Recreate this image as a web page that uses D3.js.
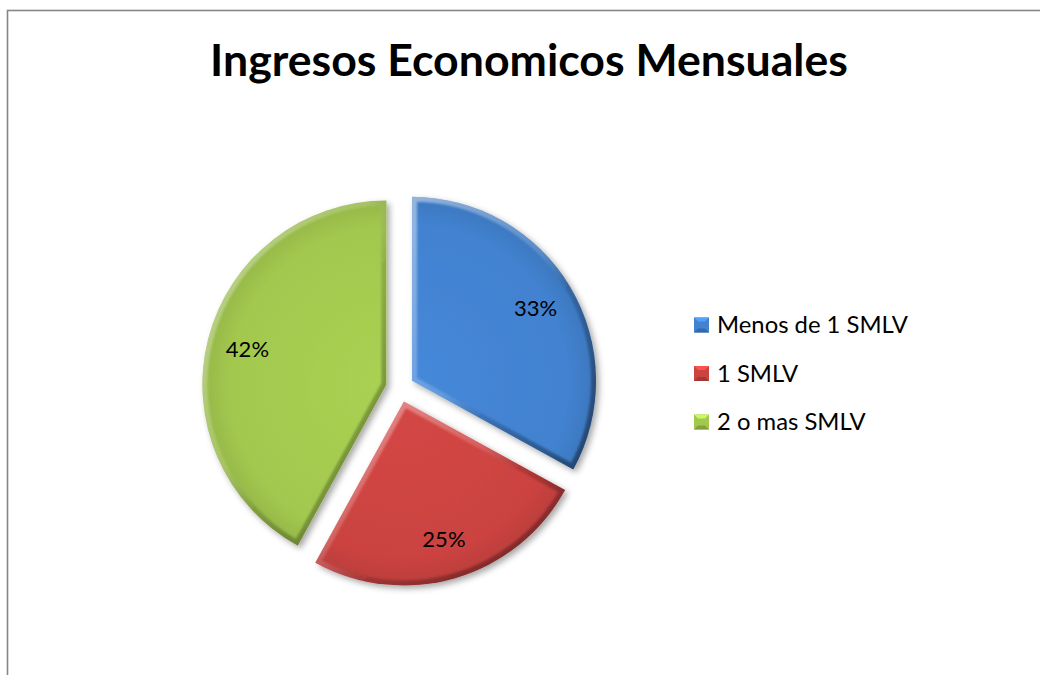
<!DOCTYPE html>
<html>
<head>
<meta charset="utf-8">
<script src="https://cdn.jsdelivr.net/npm/d3@7"></script>
<style>
  html, body { margin: 0; padding: 0; background: #fff; }
  svg { display: block; }
</style>
</head>
<body>
<svg id="chart" width="1040" height="675"></svg>
<script>
const title = "Ingresos Economicos Mensuales";
const categories = ["Menos de 1 SMLV", "1 SMLV", "2 o mas SMLV"];
const values = [33, 25, 42];
const valueLabels = ["33%", "25%", "42%"];
const colors = ["#4282d0", "#cb4341", "#a3c84f"];

const W = 1040, H = 675;
const svg = d3.select("#chart");
const defs = svg.append("defs");
const FONT = "Lato, 'Open Sans', sans-serif";

// chart border
svg.append("rect").attr("x", 7.5).attr("y", 10.5).attr("width", 1200).attr("height", 800)
  .attr("fill", "#fff").attr("stroke", "#868686").attr("stroke-width", 1.6);

// title
const t = svg.append("text").attr("x", 529).attr("y", 76).attr("text-anchor", "middle")
  .attr("font-family", FONT).attr("font-weight", "bold").attr("font-size", 44)
  .attr("fill", "#000").text(title);
const tw = t.node().getComputedTextLength();
t.attr("font-size", 44 * 638 / tw);

// filters
const sh = defs.append("filter").attr("id", "shadow").attr("x", "-20%").attr("y", "-20%").attr("width", "140%").attr("height", "140%");
sh.append("feDropShadow").attr("dx", 3).attr("dy", 3).attr("stdDeviation", 3)
  .attr("flood-color", "#000").attr("flood-opacity", 0.35);
const bl = defs.append("filter").attr("id", "soft");
bl.append("feGaussianBlur").attr("stdDeviation", 1.1);

const grad = defs.append("linearGradient").attr("id", "bevelGrad")
  .attr("x1", "0").attr("y1", "0").attr("x2", "1").attr("y2", "1");
grad.append("stop").attr("offset", "0%").attr("stop-color", "#fff").attr("stop-opacity", 0.45);
grad.append("stop").attr("offset", "45%").attr("stop-color", "#fff").attr("stop-opacity", 0.15);
grad.append("stop").attr("offset", "60%").attr("stop-color", "#000").attr("stop-opacity", 0.15);
grad.append("stop").attr("offset", "100%").attr("stop-color", "#000").attr("stop-opacity", 0.45);

// pie
const cx = 400, cy = 388, R = 184, explode = 14;
const pie = d3.pie().sort(null).value(d => d)(values);
const arc = d3.arc().innerRadius(0).outerRadius(R);
const labelArc = d3.arc().innerRadius(R * 0.78).outerRadius(R * 0.78);

const g = svg.append("g").attr("transform", `translate(${cx},${cy})`);
pie.forEach((p, i) => {
  const mid = (p.startAngle + p.endAngle) / 2;
  const ox = Math.sin(mid) * explode, oy = -Math.cos(mid) * explode;
  const sg = g.append("g").attr("transform", `translate(${ox},${oy})`);
  const path = arc(p);
  defs.append("clipPath").attr("id", "clip" + i).append("path").attr("d", path);
  const col = d3.color(colors[i]);
  const rg = defs.append("radialGradient").attr("id", "rg" + i)
    .attr("gradientUnits", "userSpaceOnUse").attr("cx", 0).attr("cy", 0).attr("r", R);
  rg.append("stop").attr("offset", "0%").attr("stop-color", col.brighter(0.12));
  rg.append("stop").attr("offset", "85%").attr("stop-color", col);
  rg.append("stop").attr("offset", "100%").attr("stop-color", col.darker(0.25));
  sg.append("path").attr("d", path).attr("fill", `url(#rg${i})`).attr("filter", "url(#shadow)");
  const cg = sg.append("g").attr("clip-path", `url(#clip${i})`);
  cg.append("path").attr("d", path).attr("fill", "none")
    .attr("stroke", "url(#bevelGrad)").attr("stroke-width", 10)
    .attr("stroke-linejoin", "miter").attr("filter", "url(#soft)");
  const c = labelArc.centroid(p);
  sg.append("text").attr("x", c[0]).attr("y", c[1]).attr("dy", "0.35em")
    .attr("text-anchor", "middle").attr("font-family", FONT).attr("font-size", 22)
    .attr("fill", "#000").text(valueLabels[i]);
});

// legend
const lg = svg.append("g").attr("transform", "translate(694,325)");
let legendSize = 21;
categories.forEach((c, i) => {
  const row = lg.append("g").attr("transform", `translate(0,${i * 48.5})`);
  const col = d3.color(colors[i]);
  row.append("rect").attr("x", 0).attr("y", -7.5).attr("width", 15).attr("height", 15).attr("fill", col);
  row.append("path").attr("d", "M0,-7.5 L15,-7.5 L11,-3.5 L4,-3.5 Z").attr("fill", col.brighter(0.6));
  row.append("path").attr("d", "M0,7.5 L15,7.5 L11,3.5 L4,3.5 Z").attr("fill", col.darker(0.6));
  const tx = row.append("text").attr("class", "lgt").attr("x", 23).attr("y", 0).attr("dy", "0.35em")
    .attr("font-family", FONT).attr("font-size", legendSize).attr("fill", "#000").text(c);
  if (i === 0) legendSize = 21 * 191 / tx.node().getComputedTextLength();
});
lg.selectAll("text.lgt").attr("font-size", legendSize);
</script>
</body>
</html>
